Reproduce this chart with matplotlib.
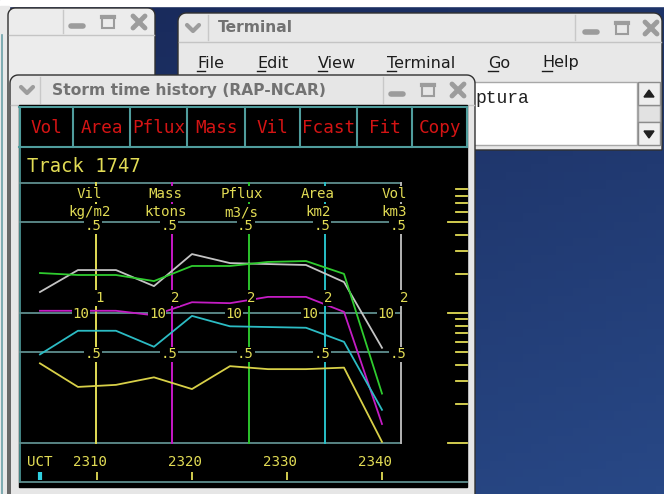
import matplotlib
matplotlib.use("Agg")
import matplotlib.pyplot as plt
import numpy as np
from matplotlib.patches import Polygon, Rectangle

W, H = 664, 494

# storm track history, one sample every 4 minutes (UCT hhmm)
times = [2304, 2308, 2312, 2316, 2320, 2324, 2328, 2332, 2336, 2340]
vol = [14.5, 21.4, 21.4, 16.1, 28.4, 24.2, 23.8, 23.4, 17.3, 5.4]
pflux = [20.3, 19.6, 19.6, 17.6, 23.0, 23.0, 24.7, 25.1, 20.0, 2.4]
mass = [10.4, 10.4, 10.4, 9.6, 12.1, 11.9, 13.3, 13.3, 10.2, 1.4]
area = [4.8, 7.3, 7.3, 5.5, 9.5, 7.9, 7.8, 7.7, 6.0, 1.8]
vil = [4.1, 2.7, 2.8, 3.2, 2.6, 3.9, 3.7, 3.7, 3.8, 1.02]

axis_names = ["Vil", "Mass", "Pflux", "Area", "Vol"]
axis_units = ["kg/m2", "ktons", "m3/s", "km2", "km3"]
axis_mid_labels = ["1", "2", "2", "2", "2"]
time_ticks = [2310, 2320, 2330, 2340]
scale_ticks = [1, 2, 3, 4, 5, 6, 7, 8, 9, 10, 20, 30, 40, 50, 60, 70, 80, 90]
scale_long = [1, 10, 50]
buttons = ["Vol", "Area", "Pflux", "Mass", "Vil", "Fcast", "Fit", "Copy"]
menu_items = ["File", "Edit", "View", "Terminal", "Go", "Help"]

YELLOW = "#e2dc55"
GRID = "#5f8e8e"
TEAL = "#4f9c9c"
MONO = "DejaVu Sans Mono"
series = [
    (vol, "#c4c4c4"),
    (pflux, "#2fcc2f"),
    (mass, "#c41cc4"),
    (area, "#2cbcc4"),
    (vil, "#d8d048"),
]
axis_colors = [YELLOW, "#c818c8", "#2cc42c", "#28c0c8", "#b4b4b4"]


def frac(x0, y0, x1, y1):
    return [x0 / W, 1 - y1 / H, (x1 - x0) / W, (y1 - y0) / H]


def top_rounded(x0, y0, x1, y1, r):
    a = np.linspace(0, np.pi / 2, 8)
    left = [(x0 + r - r * np.cos(t), y0 + r - r * np.sin(t)) for t in a]
    right = [(x1 - r + r * np.sin(t), y0 + r - r * np.cos(t)) for t in a]
    return [(x0, y1)] + left + right + [(x1, y1)]


def title_buttons(ax, xs, cy, sep_x, top, bottom, z):
    c = "#9c9c9c"
    ax.plot([sep_x, sep_x], [top + 2, bottom - 2], color="#c8c8c8", lw=1,
            zorder=z)
    ax.plot([xs[0] - 6, xs[0] + 6], [cy + 4, cy + 4], color=c, lw=4,
            solid_capstyle="round", zorder=z)
    ax.add_patch(Rectangle((xs[1] - 6, cy - 6), 12, 12, fill=False,
                           edgecolor=c, lw=1.5, zorder=z))
    ax.plot([xs[1] - 6, xs[1] + 6], [cy - 5, cy - 5], color=c, lw=3, zorder=z)
    for d in (1, -1):
        ax.plot([xs[2] - 6, xs[2] + 6], [cy - 6 * d, cy + 6 * d], color=c,
                lw=3.5, solid_capstyle="round", zorder=z)


def chevron(ax, cx, cy, sep_x, top, bottom, z):
    ax.plot([cx - 6, cx, cx + 6], [cy - 3, cy + 3, cy - 3], color="#9c9c9c",
            lw=3, solid_capstyle="round", solid_joinstyle="round", zorder=z)
    ax.plot([sep_x, sep_x], [top + 2, bottom - 2], color="#c8c8c8", lw=1,
            zorder=z)


fig = plt.figure(figsize=(W / 100, H / 100), dpi=100)
bg = fig.add_axes([0, 0, 1, 1])
bg.set_xlim(0, W)
bg.set_ylim(H, 0)
bg.set_axis_off()

# desktop
yy, xx = np.mgrid[0:1:60j, 0:1:80j]
mix = np.clip(0.65 * yy + 0.35 * xx, 0, 1)[..., None]
top_c = np.array([24, 40, 88]) / 255
bot_c = np.array([40, 72, 134]) / 255
bg.imshow(top_c + (bot_c - top_c) * mix, extent=[0, W, H, 0], aspect="auto",
          zorder=0)
bg.add_patch(Rectangle((0, 0), W, 6, color="white", zorder=1))

# window peeking in at the far left
bg.add_patch(Rectangle((0, 6), 9, H, color="#e9e9e9", zorder=1))
bg.plot([1.5, 1.5], [35, H], color="#6aa0a8", lw=1.2, zorder=1)

# left window
bg.add_patch(Polygon(top_rounded(8, 8, 155, H + 5, 7), closed=True,
                     facecolor="#ececec", edgecolor="#303030", lw=1, zorder=2))
bg.plot([9, 154], [35, 35], color="#c4c4c4", lw=1, zorder=2)
title_buttons(bg, [77, 108, 139], 22, 63, 8, 35, 2.5)

# terminal window
bg.add_patch(Polygon(top_rounded(178, 13, 662, 150, 8), closed=True,
                     facecolor="#e8e8e8", edgecolor="#303030", lw=1, zorder=3))
bg.plot([179, 661], [42, 42], color="#c4c4c4", lw=1, zorder=3)
chevron(bg, 193, 28, 208, 13, 42, 3.5)
bg.text(218, 28, "Terminal", fontsize=11.2, fontweight="bold", color="#727272",
        va="center", zorder=3.5)
title_buttons(bg, [591, 622, 651], 28, 575, 13, 42, 3.5)
menu_x = [197, 257, 318, 387, 488, 542]
under_w = [8, 8, 9, 9, 10, 10]
for x, item, uw in zip(menu_x, menu_items, under_w):
    bg.text(x, 63, item, fontsize=11.5, color="#1c1c1c", va="center",
            zorder=3.5)
    bg.plot([x, x + uw], [71, 71], color="#1c1c1c", lw=1, zorder=3.5)
bg.add_patch(Rectangle((180, 82), 457, 63, facecolor="white",
                       edgecolor="#a8a8a8", lw=1, zorder=3.5))
bg.text(475, 98, "ptura", fontsize=13, family="Liberation Mono",
        color="#202020", va="center", zorder=3.6)
bg.add_patch(Rectangle((638, 105), 22, 17, facecolor="#e2e2e2",
                       edgecolor="#a0a0a0", lw=1, zorder=3.6))
for y0 in (82, 122):
    bg.add_patch(Rectangle((638, y0), 22, 23, facecolor="#eeeeee",
                           edgecolor="#8c8c8c", lw=1, zorder=3.7))
bg.add_patch(Polygon([(644, 97), (654, 97), (649, 90)], color="#202020",
                     zorder=3.8))
bg.add_patch(Polygon([(644, 131), (654, 131), (649, 138)], color="#202020",
                     zorder=3.8))

# storm history window
bg.add_patch(Polygon(top_rounded(10, 75, 475, H + 5, 8), closed=True,
                     facecolor="#e6e6e6", edgecolor="#303030", lw=1, zorder=5))
bg.plot([11, 474], [105, 105], color="#c4c4c4", lw=1, zorder=5)
chevron(bg, 27, 90, 40, 75, 105, 6)
bg.text(52, 90, "Storm time history (RAP-NCAR)", fontsize=11.2,
        fontweight="bold", color="#727272", va="center", zorder=6)
title_buttons(bg, [397, 428, 458], 90, 383, 75, 105, 6)
bg.add_patch(Rectangle((19, 105), 448, 382, color="black", zorder=6))

# button row
edges = [20, 73, 130, 187, 245, 300, 357, 412, 467]
for y in (107, 147):
    bg.plot([19, 467], [y, y], color=TEAL, lw=1.5, zorder=7)
for x in edges:
    bg.plot([x, x], [107, 147], color=TEAL, lw=1.5, zorder=7)
for x0, x1, name in zip(edges[:-1], edges[1:], buttons):
    bg.text((x0 + x1) / 2, 128, name, fontsize=12.7, family=MONO,
            color="#d41414", ha="center", va="center", zorder=8)
bg.plot([19.5, 19.5], [107, 482], color=TEAL, lw=1.2, zorder=7)
bg.text(27, 166, "Track 1747", fontsize=13.6, family=MONO, color=YELLOW,
        va="center", zorder=8)

# history plot
t0, t1 = 2301.9, 2342.0
ax = fig.add_axes(frac(20, 183, 401, 443))
ax.set_zorder(10)
ax.set_facecolor("none")
ax.set_xlim(t0, t1)
ax.set_yscale("log")
ax.set_ylim(1, 100)
ax.set_axis_off()

for v in (100, 50, 10, 5, 1):
    ax.axhline(v, color=GRID, lw=1.3, clip_on=False, zorder=1)

axis_t = [t0 + f * (t1 - t0) for f in (0.2, 0.4, 0.6, 0.8, 1.0)]
for t, c in zip(axis_t, axis_colors):
    ax.axvline(t, color=c, lw=1.4, clip_on=False, zorder=2)

for values, c in series:
    ax.plot(times, values, color=c, lw=1.3, zorder=3)

lab = dict(textcoords="offset pixels", ha="center", va="center", family=MONO,
           color=YELLOW, zorder=4, annotation_clip=False,
           bbox=dict(facecolor="black", edgecolor="none", pad=0.4))
for t, name, unit, mid in zip(axis_t, axis_names, axis_units, axis_mid_labels):
    ax.annotate(name, xy=(t, 100), xytext=(-7, -11), fontsize=10.2, **lab)
    ax.annotate(unit, xy=(t, 100), xytext=(-7, -29), fontsize=10.2, **lab)
    ax.annotate(".5", xy=(t, 50), xytext=(-3, -4), fontsize=10.2, **lab)
    ax.annotate(mid, xy=(t, 10), xytext=(3, 15), fontsize=10.2, **lab)
    ax.annotate("10", xy=(t, 10), xytext=(-15, -1), fontsize=10.2, **lab)
    ax.annotate(".5", xy=(t, 5), xytext=(-3, -2), fontsize=10.2, **lab)

# log scale strip at the right
ytr = ax.get_yaxis_transform()
for v in scale_ticks:
    x0 = 1.123 if v in scale_long else 1.144
    ax.plot([x0, 1.173], [v, v], color=YELLOW, lw=1.3, transform=ytr,
            clip_on=False, zorder=3)

# time axis
tx = fig.add_axes(frac(20, 443, 467, 482))
tx.set_zorder(10)
tx.set_facecolor("none")
tx.set_xlim(t0, t0 + (t1 - t0) * 447 / 381)
tx.set_ylim(0, 1)
tx.set_axis_off()
tx.axhline(0, color=GRID, lw=1.3, clip_on=False)
tx.vlines(time_ticks, 0.05, 0.26, color=YELLOW, lw=1.3)
for t in time_ticks:
    tx.annotate(str(t), xy=(t, 0.51), xytext=(-7, 0), textcoords="offset pixels",
                ha="center", va="center", family=MONO, fontsize=10.2,
                color=YELLOW)
tx.text(times[0], 0.51, "UCT", ha="center", va="center", family=MONO,
        fontsize=10.2, color=YELLOW)
tx.vlines(times[0], 0.05, 0.26, color="#30d0e0", lw=3)

fig.savefig("out.png", dpi=100)
